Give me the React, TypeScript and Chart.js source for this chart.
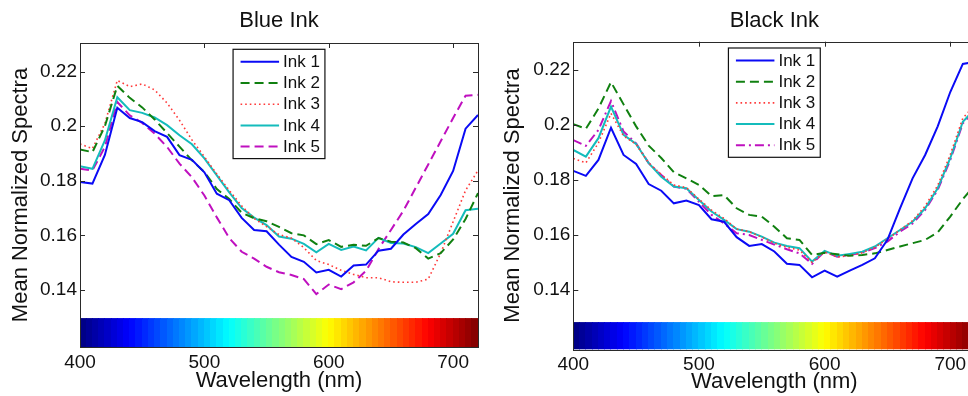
import React, { useEffect, useRef } from 'react';
import { Chart, registerables } from 'chart.js';

Chart.register(...registerables);

const FONT = '"Liberation Sans", Arial, Helvetica, sans-serif';

// ---------- data ----------
const wavelengths = [400, 410, 420, 430, 440, 450, 460, 470, 480, 490, 500, 510, 520, 530, 540, 550, 560,
  570, 580, 590, 600, 610, 620, 630, 640, 650, 660, 670, 680, 690, 700, 710, 720];
const xTickValues = [400, 500, 600, 700];
const yTickValues = [0.14, 0.16, 0.18, 0.2, 0.22];
const seriesLabels = ['Ink 1', 'Ink 2', 'Ink 3', 'Ink 4', 'Ink 5'];
const panelTitles = ['Blue Ink', 'Black Ink'];
const xAxisTitle = 'Wavelength (nm)';
const yAxisTitle = 'Mean Normalized Spectra';

// Blue Ink panel
const blueInk1 = [0.1796, 0.1790, 0.1895, 0.2068, 0.2030, 0.2015, 0.1982, 0.1961, 0.1894, 0.1877, 0.1831, 0.1753, 0.1729, 0.1664, 0.1620, 0.1615, 0.1566,
  0.1521, 0.1503, 0.1464, 0.1474, 0.1449, 0.1490, 0.1493, 0.1544, 0.1551, 0.1603, 0.1642, 0.1678, 0.1748, 0.1836, 0.1991, 0.2041];
const blueInk2 = [0.1915, 0.1905, 0.2000, 0.2148, 0.2104, 0.2069, 0.2025, 0.1975, 0.1925, 0.1875, 0.1832, 0.1770, 0.1733, 0.1683, 0.1663, 0.1652, 0.1631,
  0.1608, 0.1600, 0.1568, 0.1583, 0.1558, 0.1566, 0.1562, 0.1590, 0.1577, 0.1574, 0.1553, 0.1515, 0.1535, 0.1585, 0.1660, 0.1755];
const blueInk3 = [0.1935, 0.1918, 0.2010, 0.2168, 0.2145, 0.2155, 0.2133, 0.2085, 0.2022, 0.1950, 0.1888, 0.1825, 0.1765, 0.1708, 0.1662, 0.1632, 0.1603,
  0.1590, 0.1555, 0.1508, 0.1493, 0.1472, 0.1457, 0.1445, 0.1445, 0.1430, 0.1428, 0.1428, 0.1440, 0.1535, 0.1650, 0.1765, 0.1838];
const blueInk4 = [0.1853, 0.1844, 0.1948, 0.2106, 0.2059, 0.2049, 0.2032, 0.2004, 0.1967, 0.1934, 0.1882, 0.1820, 0.1758, 0.1700, 0.1665, 0.1638, 0.1596,
  0.1588, 0.1569, 0.1538, 0.1569, 0.1547, 0.1559, 0.1545, 0.1591, 0.1572, 0.1570, 0.1557, 0.1535, 0.1570, 0.1606, 0.1692, 0.1698];
const blueInk5 = [0.1844, 0.1838, 0.1924, 0.2089, 0.2040, 0.2012, 0.1973, 0.1924, 0.1863, 0.1813, 0.1746, 0.1666, 0.1590, 0.1540, 0.1515, 0.1485, 0.1465,
  0.1455, 0.1440, 0.1385, 0.1420, 0.1403, 0.1428, 0.1470, 0.1550, 0.1620, 0.1690, 0.1775, 0.1860, 0.1945, 0.2030, 0.2112, 0.2115];

// Black Ink panel
const blackInk1 = [0.1833, 0.1815, 0.1873, 0.1990, 0.1891, 0.1858, 0.1785, 0.1761, 0.1715, 0.1725, 0.1709, 0.1657, 0.1648, 0.1592, 0.1560, 0.1567, 0.1540,
  0.1495, 0.1491, 0.1446, 0.1470, 0.1448, 0.1470, 0.1491, 0.1515, 0.1582, 0.1697, 0.1806, 0.1891, 0.1995, 0.2120, 0.2222, 0.2230];
const blackInk2 = [0.2003, 0.1986, 0.2060, 0.2156, 0.2075, 0.1995, 0.1925, 0.1880, 0.1828, 0.1806, 0.1782, 0.1741, 0.1745, 0.1697, 0.1673, 0.1667, 0.1630,
  0.1588, 0.1582, 0.1527, 0.1535, 0.1530, 0.1524, 0.1527, 0.1533, 0.1545, 0.1558, 0.1570, 0.1582, 0.1609, 0.1667, 0.1730, 0.1785];
const blackInk3 = [0.1878, 0.1862, 0.1935, 0.2042, 0.1960, 0.1930, 0.1862, 0.1820, 0.1782, 0.1772, 0.1730, 0.1690, 0.1660, 0.1622, 0.1612, 0.1592, 0.1570,
  0.1555, 0.1545, 0.1500, 0.1538, 0.1520, 0.1525, 0.1535, 0.1555, 0.1585, 0.1618, 0.1652, 0.1705, 0.1780, 0.1892, 0.2025, 0.2075];
const blackInk4 = [0.1909, 0.1885, 0.1952, 0.2067, 0.1964, 0.1931, 0.1861, 0.1812, 0.1776, 0.1770, 0.1727, 0.1685, 0.1655, 0.1621, 0.1612, 0.1594, 0.1572,
  0.1560, 0.1552, 0.1503, 0.1542, 0.1524, 0.1531, 0.1539, 0.1558, 0.1588, 0.1618, 0.1648, 0.1697, 0.1770, 0.1879, 0.2012, 0.2060];
const blackInk5 = [0.1945, 0.1924, 0.1982, 0.2087, 0.1976, 0.1933, 0.1861, 0.1818, 0.1776, 0.1768, 0.1721, 0.1673, 0.1642, 0.1606, 0.1600, 0.1582, 0.1565,
  0.1548, 0.1533, 0.1495, 0.1539, 0.1521, 0.1527, 0.1536, 0.1552, 0.1576, 0.1612, 0.1642, 0.1691, 0.1764, 0.1873, 0.2006, 0.2055];

// ---------- styles ----------
const lineColors = ['#0a0af5', '#108010', '#ff3a3a', '#14bcbc', '#bf10bf'];
const lineWidths = [2, 2, 1.6, 2, 2];
const dashLeft: number[][] = [[], [9, 5], [1.6, 3], [], [9, 5]];
const dashRight: number[][] = [[], [9, 5], [1.6, 3], [], [9, 4, 2, 4]];

function jet(t: number) {
  const c = (v: number) => Math.round(255 * Math.max(0, Math.min(1, v)));
  return `rgb(${c(1.5 - Math.abs(4 * t - 3))},${c(1.5 - Math.abs(4 * t - 2))},${c(1.5 - Math.abs(4 * t - 1))})`;
}

type Spec = {
  title: string; series: number[][]; dashes: number[][]; left: number; width: number;
  yMin: number; yMax: number; cbTop: number; yWidth: number; xHeight: number; padRight: number;
  titlePadTop: number; titlePadBottom: number; yTitlePad: number; xTitlePad: number;
};

const specs: Spec[] = [
  { title: panelTitles[0], series: [blueInk1, blueInk2, blueInk3, blueInk4, blueInk5], dashes: dashLeft,
    left: 0, width: 490, yMin: 0.1191, yMax: 0.2305, cbTop: 0.1297, yWidth: 80, xHeight: 49, padRight: 12,
    titlePadTop: 7.8, titlePadBottom: 8.8, yTitlePad: 7.5, xTitlePad: 2 },
  { title: panelTitles[1], series: [blackInk1, blackInk2, blackInk3, blackInk4, blackInk5], dashes: dashRight,
    left: 490, width: 500, yMin: 0.1184, yMax: 0.2303, cbTop: 0.1283, yWidth: 83.3, xHeight: 46.7, padRight: 14.6,
    titlePadTop: 7.8, titlePadBottom: 7.5, yTitlePad: 9.8, xTitlePad: 0.8 },
];

function makeFramePlugin(spec: Spec) {
  return {
    id: 'frame',
    beforeDatasetsDraw(chart: any) {
      const { ctx, chartArea: a, scales } = chart;
      const xs = scales.x, ys = scales.y;
      const yTop = ys.getPixelForValue(spec.cbTop);
      const x0 = xs.getPixelForValue(xs.min), x1 = xs.getPixelForValue(xs.max);
      const n = 64;
      ctx.save();
      for (let i = 0; i < n; i++) {
        const xa = x0 + ((x1 - x0) * i) / n;
        const xb = x0 + ((x1 - x0) * (i + 1)) / n;
        ctx.fillStyle = jet((i + 0.5) / n);
        ctx.fillRect(Math.floor(xa), yTop, Math.ceil(xb) - Math.floor(xa), a.bottom - yTop);
      }
      ctx.restore();
    },
    afterDatasetsDraw(chart: any) {
      const { ctx, chartArea: a, scales } = chart;
      const xs = scales.x, ys = scales.y;
      ctx.save();
      // axes box
      ctx.strokeStyle = '#2a2a2a';
      ctx.lineWidth = 1;
      ctx.strokeRect(Math.round(a.left) + 0.5, Math.round(a.top) + 0.5, Math.round(a.right - a.left), Math.round(a.bottom - a.top));
      // inward ticks
      const tl = 5;
      ctx.beginPath();
      for (const v of yTickValues) {
        const py = Math.round(ys.getPixelForValue(v)) + 0.5;
        ctx.moveTo(a.left, py); ctx.lineTo(a.left + tl, py);
        ctx.moveTo(a.right, py); ctx.lineTo(a.right - tl, py);
      }
      for (const v of xTickValues) {
        if (v <= xs.min || v >= xs.max) continue;
        const px = Math.round(xs.getPixelForValue(v)) + 0.5;
        ctx.moveTo(px, a.top); ctx.lineTo(px, a.top + tl);
      }
      ctx.stroke();

      // legend
      const fontSize = 17;
      ctx.font = `${fontSize}px ${FONT}`;
      const labels = chart.data.datasets.map((d: any) => d.label as string);
      const tw = Math.max(...labels.map((l: string) => ctx.measureText(l).width));
      const padL = 7.5, sample = 38.5, gap = 4, padR = 5;
      const rowH = 21.2, firstRow = 12.5;
      const w = padL + sample + gap + tw + padR;
      const h = firstRow * 2 + rowH * (labels.length - 1) - 0.5;
      const bx = (a.left + a.right) / 2 - w / 2;
      const by = a.top + 6.3;
      ctx.fillStyle = '#ffffff';
      ctx.fillRect(bx, by, w, h);
      ctx.strokeStyle = '#111';
      ctx.lineWidth = 1.2;
      ctx.strokeRect(bx, by, w, h);
      chart.data.datasets.forEach((d: any, i: number) => {
        const cy = by + firstRow + rowH * i;
        ctx.save();
        ctx.strokeStyle = d.borderColor;
        ctx.lineWidth = d.borderWidth;
        ctx.setLineDash(d.borderDash || []);
        ctx.beginPath();
        ctx.moveTo(bx + padL, cy);
        ctx.lineTo(bx + padL + sample, cy);
        ctx.stroke();
        ctx.restore();
        ctx.fillStyle = '#111';
        ctx.textBaseline = 'middle';
        ctx.textAlign = 'left';
        ctx.fillText(d.label, bx + padL + sample + gap, cy + 0.5);
      });
      ctx.restore();
    },
  };
}

function Panel({ spec }: { spec: Spec }) {
  const ref = useRef<HTMLCanvasElement>(null);
  useEffect(() => {
    const canvas = ref.current!;
    const datasets = spec.series.map((arr, i) => ({
      label: seriesLabels[i],
      data: wavelengths.map((w, j) => ({ x: w, y: arr[j] })),
      borderColor: lineColors[i],
      backgroundColor: lineColors[i],
      borderWidth: lineWidths[i],
      borderDash: spec.dashes[i],
      pointRadius: 0,
      tension: 0,
      fill: false,
    }));
    const chart = new Chart(canvas, {
      type: 'line',
      data: { datasets },
      options: {
        responsive: false,
        animation: false,
        devicePixelRatio: 1,
        layout: { padding: { left: 0, top: 0, right: spec.padRight, bottom: 0 } },
        plugins: {
          legend: { display: false },
          tooltip: { enabled: false },
          title: {
            display: true, text: spec.title, fullSize: false, color: '#111',
            font: { family: FONT, size: 22, weight: 'normal', lineHeight: 1.2 },
            padding: { top: spec.titlePadTop, bottom: spec.titlePadBottom },
          },
        },
        scales: {
          x: {
            type: 'linear', min: 400, max: 720,
            grid: { display: false, drawTicks: false }, border: { display: false },
            ticks: { color: '#111', font: { family: FONT, size: 19 }, padding: 4, autoSkip: false, maxRotation: 0,
              callback: (v: any) => String(v) },
            title: { display: true, text: xAxisTitle, color: '#111', font: { family: FONT, size: 22, lineHeight: 1.2 },
              padding: { top: 0, bottom: spec.xTitlePad } },
            afterBuildTicks: (s: any) => { s.ticks = xTickValues.map((v) => ({ value: v })); },
            afterFit: (s: any) => { s.height = spec.xHeight; },
          },
          y: {
            type: 'linear', min: spec.yMin, max: spec.yMax,
            grid: { display: false, drawTicks: false }, border: { display: false },
            ticks: { color: '#111', font: { family: FONT, size: 19 }, padding: 3, autoSkip: false,
              callback: (v: any) => String(v) },
            title: { display: true, text: yAxisTitle, color: '#111', font: { family: FONT, size: 22, lineHeight: 1.2 },
              padding: { top: spec.yTitlePad, bottom: 0 } },
            afterBuildTicks: (s: any) => { s.ticks = yTickValues.map((v) => ({ value: v })); },
            afterFit: (s: any) => { s.width = spec.yWidth; },
          },
        },
      } as any,
      plugins: [makeFramePlugin(spec)],
    });
    return () => chart.destroy();
  }, [spec]);
  return (
    <canvas
      ref={ref}
      width={spec.width}
      height={396}
      style={{ position: 'absolute', left: spec.left, top: 0, width: spec.width, height: 396 }}
    />
  );
}

export default function App() {
  return (
    <div style={{ position: 'absolute', left: 0, top: 0, width: 968, height: 396, overflow: 'hidden', background: '#fff' }}>
      {specs.map((s) => (
        <Panel key={s.title} spec={s} />
      ))}
    </div>
  );
}
